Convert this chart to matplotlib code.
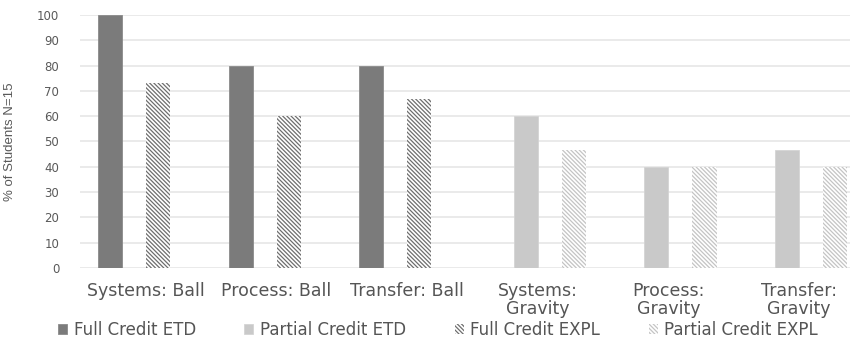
import numpy as np
import matplotlib
matplotlib.use("Agg")
import matplotlib.pyplot as plt

plt.rcParams['hatch.linewidth'] = 0.9

# カテゴリと系列データ
categories = ["Systems: Ball", "Process: Ball", "Transfer: Ball",
              "Systems:\nGravity", "Process:\nGravity", "Transfer:\nGravity"]
series_names = ["Full Credit ETD", "Partial Credit ETD", "Full Credit EXPL", "Partial Credit EXPL"]
full_etd = [100, 80, 80, 0, 0, 0]
partial_etd = [0, 0, 0, 60, 40, 46.7]
full_expl = [73.3, 60, 66.7, 0, 0, 0]
partial_expl = [0, 0, 0, 46.7, 40, 40]
y_ticks = [0, 10, 20, 30, 40, 50, 60, 70, 80, 90, 100]

fig = plt.figure(figsize=(8.52, 3.42), dpi=100)
ax = fig.add_axes([80 / 852, 1 - 268 / 342, 770 / 852, 253 / 342])

x = np.arange(len(categories))
w = 0.184
offsets = [-1.5 * w, -0.5 * w, 0.5 * w, 1.5 * w]

# 斜線バーは枠線なし（ハッチ色 = edgecolor）
styles = [
    dict(color="#7b7b7b", edgecolor="#8a8a8a", linewidth=0.6),
    dict(color="#c9c9c9", edgecolor="#d4d4d4", linewidth=0.6),
    dict(color="white", edgecolor="#6e6e6e", hatch="\\\\\\\\\\\\\\\\", linewidth=0),
    dict(color="white", edgecolor="#c4c4c4", hatch="\\\\\\\\\\\\\\\\", linewidth=0),
]
data = [full_etd, partial_etd, full_expl, partial_expl]

handles = []
for vals, off, st, name in zip(data, offsets, styles, series_names):
    b = ax.bar(x + off, vals, w, label=name, zorder=3, **st)
    handles.append(b)

ax.set_xlim(-0.505, 5.39)
ax.set_ylim(0, 100)
ax.set_yticks(y_ticks)
ax.yaxis.grid(True, color="#e6e6e6", linewidth=1.2, zorder=0)
ax.set_axisbelow(True)
for s in ax.spines.values():
    s.set_visible(False)
ax.tick_params(axis="y", length=0, pad=15, labelsize=8.5, labelcolor="#595959")
ax.tick_params(axis="x", length=0, pad=10)
ax.set_xticks(x)
ax.set_xticklabels(categories, fontsize=12.5, color="#555555", family="DejaVu Sans",
                   linespacing=1.0)

ax.set_ylabel("% of Students N=15", fontsize=9.5, color="#595959",
              family="Liberation Sans")
ax.yaxis.set_label_coords(-64 / 770, 0.5)

fig.legend(handles=handles, loc="center", bbox_to_anchor=(438 / 852, 1 - 330 / 342),
           ncol=4, frameon=False, fontsize=12, handlelength=0.55, handleheight=0.55,
           handletextpad=0.4, columnspacing=2.9, labelcolor="#555555")

fig.savefig("out.png", dpi=100)
